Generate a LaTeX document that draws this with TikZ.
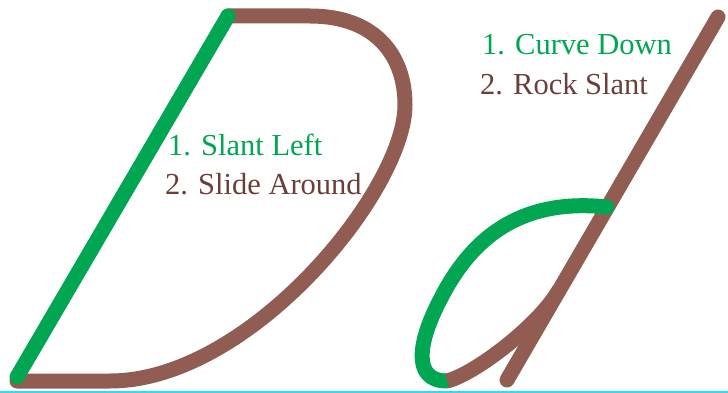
\documentclass[tikz,border=0pt]{standalone}
\usepackage{fontspec}
\setmainfont{Liberation Serif}
\usepackage{xcolor}
\usepackage{tikz}
\usetikzlibrary{calc}
\definecolor{penG}{RGB}{0,166,81}
\definecolor{penB}{RGB}{145,93,82}
\definecolor{txtB}{RGB}{107,62,56}
\definecolor{baseC}{RGB}{51,214,255}
\tikzset{pen/.style={line width=15pt, line cap=round, line join=round},
  steptext/.style={anchor=base west, inner sep=0pt, font=\fontsize{30.5}{37}\selectfont}}

\begin{document}
\begin{tikzpicture}[x=1pt, y=-1pt]
\useasboundingbox (0,0) rectangle (728,393);
% base line
\draw[baseC, line width=2pt] (0,391.5) -- (728,391.5);
% Capital D: slant left, then slide around
\draw[pen, penB] (228,16) -- (310,16) .. controls (375,16) and (405,55) .. (405,105)
  .. controls (405,190) and (250,381) .. (110,381) -- (17,381);
\draw[pen, penG] (228,16) -- (17,377);
\node[steptext, penG] (slantL) at (168,156) {1. Slant Left};
\node[steptext, txtB] (slideA) at (165,194) {2. Slide Around};
% small d: curve down, then rock slant
\draw[pen, penB] (718,17) -- (507,380);
\draw[pen, penG] (607,207) .. controls (540,200) and (480,220) .. (440,300)
  .. controls (418,342) and (412,381) .. (447,381);
\draw[pen, penB, line cap=butt] (447,381) .. controls (475,374) and (539,325) .. (559,290);
\node[steptext, penG] (curveD) at (482,55) {1. Curve Down};
\node[steptext, txtB] (rockS) at (480,95) {2. Rock Slant};
\end{tikzpicture}
\end{document}
